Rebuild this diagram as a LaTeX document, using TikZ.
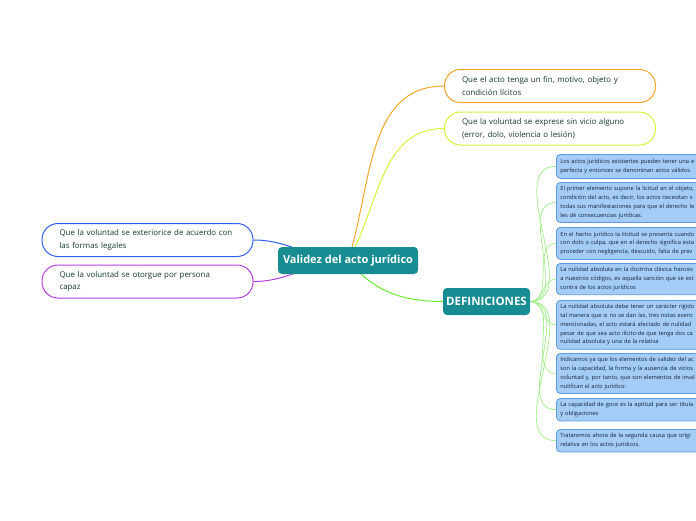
\documentclass[tikz,border=0pt]{standalone}
\usepackage{fontspec}
\setmainfont{Open Sans}
\usepackage{xcolor}
\usetikzlibrary{backgrounds}
\definecolor{valteal}{HTML}{178C93}
\definecolor{leaftext}{HTML}{163A2F}
\definecolor{deftext}{HTML}{14223E}
\definecolor{deffill}{HTML}{A3CDF6}
\definecolor{defedge}{HTML}{5C9BE3}
\definecolor{brorange}{HTML}{F5A52A}
\definecolor{brlime}{HTML}{D6F23C}
\definecolor{brblue}{HTML}{2F5FEF}
\definecolor{brpurple}{HTML}{B43FE0}
\definecolor{brgreen}{HTML}{66EE33}
\definecolor{twiggreen}{HTML}{A0EE88}

\begin{document}
\begin{tikzpicture}[x=1pt, y=-1pt,
    root/.style={fill=valteal, rounded corners=4pt, text=white,
                 font=\bfseries\fontsize{11}{13}\selectfont,
                 minimum width=140pt, minimum height=27pt, inner sep=2pt},
    leaf/.style={draw, line width=1pt, fill=white, rounded corners=16pt,
                 minimum width=211pt, minimum height=33pt, text width=176pt,
                 align=left, text=leaftext, font=\fontsize{7.9}{12.5}\selectfont},
    defbox/.style={draw=defedge, fill=deffill, line width=0.8pt,
                   rounded corners=4pt, anchor=north west, text width=170pt,
                   inner sep=4pt, align=left, text=deftext,
                   font=\fontsize{5.7}{8.8}\selectfont},
    link/.style={line width=1pt},
    twig/.style={line width=0.7pt, twiggreen}
  ]
    \clip (0,0) rectangle (696,520);

    % Centre and branches
    \node[root] (val) at (348,260.5) {Validez del acto jurídico};
    \node[leaf, draw=brorange] (fin) at (550,86)
      {Que el acto tenga un fin, motivo, objeto y\\condición lícitos};
    \node[leaf, draw=brlime] (vicio) at (550,128.5)
      {Que la voluntad se exprese sin vicio alguno\\(error, dolo, violencia o lesión)};
    \node[leaf, draw=brblue] (forma) at (147.5,240)
      {Que la voluntad se exteriorice de acuerdo con\\las formas legales};
    \node[leaf, draw=brpurple] (capaz) at (147.5,281.5)
      {Que la voluntad se otorgue por persona\\capaz};
    \node[root, minimum width=87pt, font=\bfseries\fontsize{11.5}{13}\selectfont]
      (defn) at (486.5,301.5) {DEFINICIONES};

    % Definitions
    \node[defbox, minimum height=24pt] (d1) at (556,154)
      {Los actos jurídicos existentes pueden tener una e\\
       perfecta y entonces se denominan actos válidos.};
    \node[defbox, minimum height=40pt] (d2) at (556,182)
      {El primer elemento supone la licitud en el objeto,\\
       condición del acto, es decir, los actos necesitan s\\
       todas sus manifestaciones para que el derecho le\\
       les dé consecuencias jurídicas.};
    \node[defbox, minimum height=32pt] (d3) at (556,227)
      {En el hecho jurídico la ilicitud se presenta cuando\\
       con dolo o culpa, que en el derecho significa esta\\
       proceder con negligencia, descuido, falta de prev};
    \node[defbox, minimum height=31pt] (d4) at (556,263)
      {La nulidad absoluta en la doctrina clásica frances\\
       a nuestros códigos, es aquella sanción que se est\\
       contra de los actos jurídicos};
    \node[defbox, minimum height=48pt] (d5) at (556,300)
      {La nulidad absoluta debe tener un carácter rígido\\
       tal manera que si no se dan las, tres notas esenc\\
       mencionadas, el acto estará afectado de nulidad\\
       pesar de que sea acto ilícito-de que tenga dos ca\\
       nulidad absoluta y una de la relativa};
    \node[defbox, minimum height=37pt] (d6) at (556,353)
      {Indicamos ya que los elementos de validez del ac\\
       son la capacidad, la forma y la ausencia de vicios\\
       voluntad y, por tanto, que son elementos de inval\\
       nulifican el acto jurídico:};
    \node[defbox, minimum height=21pt] (d7) at (556,398)
      {La capacidad de goce es la aptitud para ser titula\\
       y obligaciones};
    \node[defbox, minimum height=22pt] (d8) at (556,429)
      {Trataremos ahora de la segunda causa que origi\\
       relativa en los actos jurídicos.};

    % Connectors
    \begin{scope}[on background layer]
      \draw[link, brorange] (val.center) to[out=72, in=180] (fin.west);
      \draw[link, brlime] (val.center) to[out=60, in=180] (vicio.west);
      \draw[link, brblue] (val.center) to[out=180, in=0] (forma.east);
      \draw[link, brpurple] (val.center) to[out=180, in=0] (capaz.east);
      \draw[link, brgreen] (val.center) to[out=-50, in=180] (defn.west);
      \foreach \d in {d1,d2,d3,d4,d5,d6,d7,d8}
        \draw[twig] (defn.east) to[out=0, in=180] (\d.west);
    \end{scope}
  \end{tikzpicture}
\end{document}
